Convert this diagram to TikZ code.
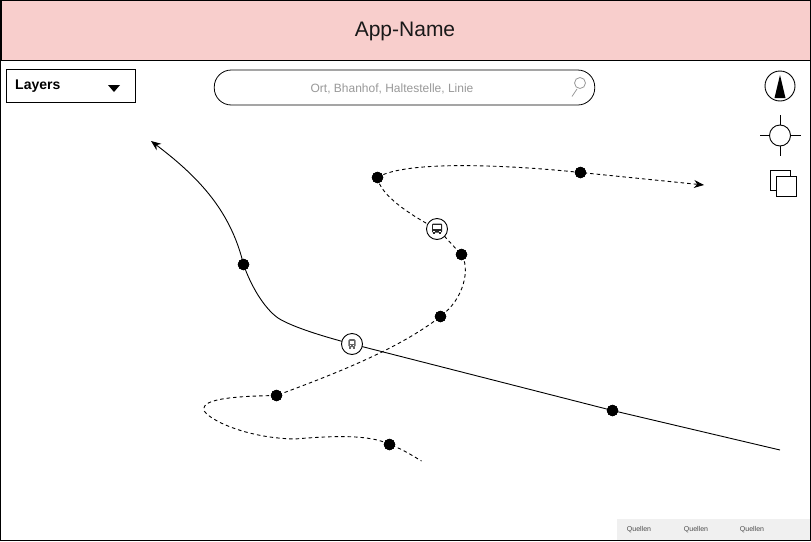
\documentclass[tikz,border=0pt]{standalone}
\usepackage{fontspec}
\setmainfont{Liberation Sans}
\usetikzlibrary{arrows.meta}
\definecolor{headerpink}{HTML}{F8CECC}
\definecolor{hinttext}{HTML}{999999}
\definecolor{footgray}{HTML}{F0F0F0}
\tikzset{
  x=1pt,y=-1pt,
  stopdot/.style={circle,fill=black,draw=black,minimum size=11pt,inner sep=0pt},
  iconring/.style={circle,draw=black,fill=white,line width=0.9pt,minimum size=21pt,inner sep=0pt},
  route/.style={draw=black,line width=0.9pt},
  dashroute/.style={route,dash pattern=on 3.5pt off 3pt},
  tip/.style={-{Stealth[length=10pt,width=8pt]}},
  srctext/.style={font=\fontsize{7}{8}\selectfont,text=black!70},
  ctl/.style={draw=black,line width=0.8pt,fill=white}
}
\newcommand{\busicon}[3]{%
  \fill[#3,rounded corners=1pt] (#1-5,#2-5.5) rectangle (#1+5,#2+3.6);
  \fill[white] (#1-3.6,#2-3.6) rectangle (#1+3.6,#2+0.2);
  \fill[white] (#1-3.6,#2+1.5) rectangle (#1-1.8,#2+2.7);
  \fill[white] (#1+1.8,#2+1.5) rectangle (#1+3.6,#2+2.7);
  \fill[#3] (#1-4.4,#2+3.4) rectangle (#1-2.4,#2+5.4);
  \fill[#3] (#1+2.4,#2+3.4) rectangle (#1+4.4,#2+5.4);
}
\newcommand{\trainicon}[3]{%
  \fill[#3,rounded corners=1.5pt] (#1-3.6,#2-5) rectangle (#1+3.6,#2+3.2);
  \fill[white] (#1-2.4,#2-3.2) rectangle (#1+2.4,#2-0.2);
  \fill[white] (#1-2.2,#2+1) rectangle (#1-1,#2+2.2);
  \fill[white] (#1+1,#2+1) rectangle (#1+2.2,#2+2.2);
  \fill[#3] (#1-3,#2+3.2) rectangle (#1-1.4,#2+4.8);
  \fill[#3] (#1+1.4,#2+3.2) rectangle (#1+3,#2+4.8);
}
\begin{document}
\begin{tikzpicture}
\useasboundingbox (0,0) rectangle (811,541);
% frame and header
\fill[white] (0,0) rectangle (811,541);
\node[draw=black,fill=headerpink,line width=0.8pt,minimum width=810pt,minimum height=60pt,inner sep=0pt,anchor=north west] (header) at (0.5,-0.2) {};
\node[font=\fontsize{21}{24}\selectfont,text=black!90,inner sep=0pt] (headertext) at (405,31) {App-Name};
\fill[footgray] (617,519) rectangle (810,540);
\node[srctext] (q1) at (639,530) {Quellen};
\node[srctext] (q2) at (696,530) {Quellen};
\node[srctext] (q3) at (752,530) {Quellen};
\draw[black,line width=1pt] (0.5,0.5) rectangle (810.5,540.5);
% layers
\node[draw=black,line width=0.9pt,minimum width=129pt,minimum height=33pt,inner sep=0pt] (layers) at (71,85.5) {};
\node[anchor=west,font=\fontsize{14}{16}\selectfont\bfseries,inner sep=0pt] (layerstext) at (15,86) {Layers};
\fill (108,85) -- (120,85) -- (114,92) -- cycle;
% search
\node[draw=black,line width=0.8pt,rounded corners=17pt,minimum width=380.5pt,minimum height=35pt,inner sep=0pt] (search) at (404.5,87.5) {};
\node[font=\fontsize{12}{14}\selectfont,text=hinttext] (searchtext) at (392,88.5) {Ort, Bhanhof, Haltestelle, Linie};
\draw[hinttext,line width=0.8pt] (580,83) circle (5.5);
\draw[hinttext,line width=0.8pt] (577,89) -- (572,96.5);
% controls
\node[circle,draw=black,line width=0.9pt,minimum size=30pt,inner sep=0pt] (compass) at (780,86) {};
\fill (780,75) -- (785.5,98) -- (774.5,98) -- cycle;
\node[circle,draw=black,line width=0.9pt,fill=white,minimum size=21pt,inner sep=0pt] (locate) at (780,135.5) {};
\draw[line width=0.9pt] (780,115) -- (locate.north) (locate.south) -- (780,156) (760,135.5) -- (locate.west) (locate.east) -- (801,135.5);
\node[ctl,minimum size=20pt,inner sep=0pt] (back) at (780.5,180.5) {};
\node[ctl,minimum size=20pt,inner sep=0pt] (front) at (786.5,186.5) {};
% stops
\coordinate (t1) at (151,141);
\coordinate (e1) at (780,450);
\coordinate (t2) at (704,185);
\coordinate (e3) at (421.5,461);
\coordinate (bendA) at (278,318);
\coordinate (bendB) at (204,408);
\node[stopdot] (a1) at (243.5,264.5) {};
\node[stopdot] (a2) at (612.5,410.5) {};
\node[stopdot] (b1) at (377.5,177.5) {};
\node[stopdot] (b2) at (580.5,172.5) {};
\node[stopdot] (c1) at (461.5,254.5) {};
\node[stopdot] (c2) at (440.5,316.5) {};
\node[stopdot] (c3) at (276.5,395.5) {};
\node[stopdot] (c4) at (389.5,444.5) {};
\coordinate (busp) at (437,229);
\coordinate (trainp) at (352,344);
% routes
\draw[route,tip] (a1.center) .. controls (231,212) and (200,178) .. (t1);
\draw[route] (a1.center) .. controls (251,286) and (264,308) .. (bendA)
  .. controls (292,327) and (325,337) .. (trainp) -- (a2.center) -- (e1);
\draw[dashroute,tip] (b1.center) .. controls (405,160) and (510,165) .. (b2.center) -- (t2);
\draw[dashroute] (b1.center) .. controls (380,195) and (410,215) .. (busp)
  .. controls (445,236) and (452,245) .. (c1.center)
  .. controls (470,268) and (465,298) .. (c2.center)
  .. controls (400,348) and (340,372) .. (c3.center)
  .. controls (250,396) and (205,397) .. (bendB)
  .. controls (200,415) and (240,438) .. (295,439)
  .. controls (330,436) and (370,434) .. (c4.center)
  .. controls (400,448) and (410,454) .. (e3);
\node[stopdot] at (a1) {};
\node[stopdot] at (a2) {};
\node[stopdot] at (b1) {};
\node[stopdot] at (b2) {};
\node[stopdot] at (c1) {};
\node[stopdot] at (c2) {};
\node[stopdot] at (c3) {};
\node[stopdot] at (c4) {};
\node[iconring] (bus) at (busp) {};
\busicon{437}{229}{black!85}
\node[iconring] (train) at (trainp) {};
\trainicon{352}{344}{black!60}
\end{tikzpicture}
\end{document}
